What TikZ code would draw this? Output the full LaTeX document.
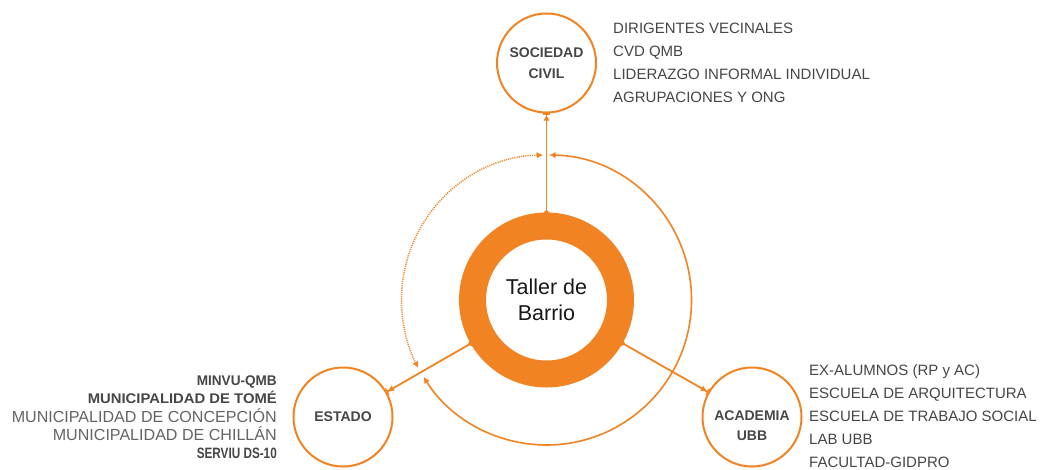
\documentclass[tikz,border=0pt]{standalone}
\usepackage{fontspec}
\usepackage{graphicx}
\setmainfont{Liberation Sans}
\usetikzlibrary{arrows.meta}
\definecolor{orng}{RGB}{241,131,35}
\definecolor{txt}{RGB}{70,70,70}
\definecolor{txtl}{RGB}{100,100,100}
\definecolor{blk}{RGB}{25,25,25}
\begin{document}
\begin{tikzpicture}[x=1pt,y=1pt,
  ring/.style={circle, draw=orng, line width=27pt, minimum size=148pt, inner sep=0pt,
    align=center, text=blk, font=\fontsize{21.5}{26}\selectfont},
  cnode/.style={circle, draw=orng, line width=2pt, minimum size=99pt, inner sep=0pt,
    align=center, text=txt, font=\bfseries\fontsize{14}{21}\selectfont},
  clab/.style={inner sep=0pt, align=center, text=txt, font=\bfseries\fontsize{14}{20}\selectfont},
  conn/.style={draw=orng, line width=1.8pt, shorten <=-2.5pt,
    {Circle[length=5pt,width=5pt]}-{Latex[length=6pt,width=6.5pt,sep=0pt]Bar[width=7pt,line width=1.2pt]}},
  arcs/.style={draw=orng, line width=1.6pt,
    {Latex[length=6.5pt,width=6.5pt]}-{Latex[length=6.5pt,width=6.5pt]}},
  dotline/.style={dash pattern=on 1.1pt off 1.1pt, line width=1.5pt},
  lst/.style={anchor=west, inner sep=0pt, text=txt, font=\fontsize{15}{18}\selectfont,
    text height=10.7pt, text depth=0pt},
  lstb/.style={anchor=east, inner sep=0pt, text=txt, font=\bfseries\fontsize{14}{18}\selectfont,
    text height=10pt, text depth=0pt},
  lstr/.style={anchor=east, inner sep=0pt, text=txtl, font=\fontsize{16}{18}\selectfont,
    text height=11.5pt, text depth=0pt}
]
\fill[white] (0,0) rectangle (1043,469);
\useasboundingbox (0,0) rectangle (1043,469);

% main nodes
\node[ring] (tb) at (546.5,169) {Taller de\\Barrio};
\node[cnode] (sc) at (546.5,406) {SOCIEDAD\\CIVIL};
\node[cnode] (es) at (343,52) {ESTADO};
\node[cnode] (ac) at (752,52) {};
\node[clab] (acl) at (752,43) {ACADEMIA\\UBB};

% radial connectors
\draw[conn] (tb) -- (sc);
\draw[conn] (tb) -- (es);
\draw[conn] (tb) -- (ac);

% arcs
\draw[arcs] ([shift={(89:145)}]tb.center) arc[start angle=89, end angle=-148, radius=145];
\draw[arcs, dotline] ([shift={(91.3:145)}]tb.center) arc[start angle=91.3, end angle=208, radius=145];

% Sociedad civil list
\foreach \t [count=\i] in {DIRIGENTES VECINALES, CVD QMB, LIDERAZGO INFORMAL INDIVIDUAL, AGRUPACIONES Y ONG}
  \node[lst] (s\i) at (613, 464-23*\i) {\t};

% Academia list
\foreach \t [count=\i] in {EX-ALUMNOS (RP y AC), ESCUELA DE ARQUITECTURA, ESCUELA DE TRABAJO SOCIAL, LAB UBB, FACULTAD-GIDPRO}
  \node[lst] (a\i) at (809, 122-23*\i) {\t};

% Estado list
\node[lstb] (e1) at (277,89) {\resizebox{80pt}{\height}{MINVU-QMB}};
\node[lstb] (e2) at (277,71) {\resizebox{189pt}{\height}{MUNICIPALIDAD DE TOMÉ}};
\node[lstr] (e3) at (277,52) {\resizebox{265pt}{\height}{MUNICIPALIDAD DE CONCEPCIÓN}};
\node[lstr] (e4) at (277,34) {\resizebox{224pt}{\height}{MUNICIPALIDAD DE CHILLÁN}};
\node[lstb, font=\bfseries\fontsize{15}{18}\selectfont, text height=10.7pt] (e5) at (277,16) {\resizebox{80pt}{\height}{SERVIU DS-10}};
\end{tikzpicture}
\end{document}
